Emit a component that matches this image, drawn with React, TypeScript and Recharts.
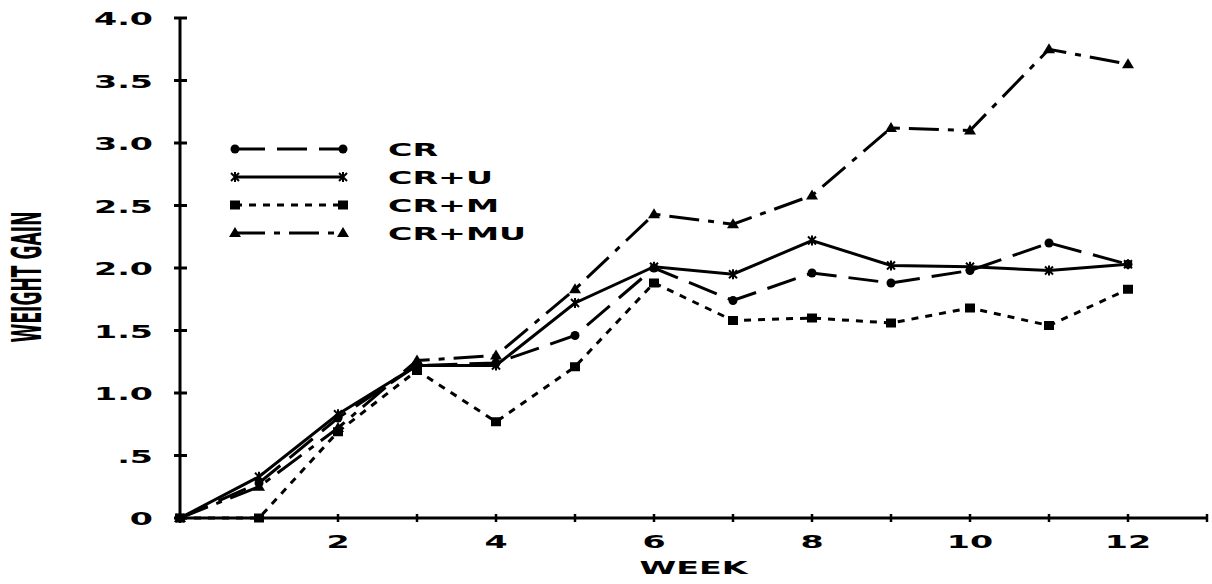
import { Label, Legend, Line, LineChart, XAxis, YAxis } from "recharts";

const weeks = [0, 1, 2, 3, 4, 5, 6, 7, 8, 9, 10, 11, 12];
const cr = [0, 0.28, 0.8, 1.22, 1.24, 1.46, 2.0, 1.74, 1.96, 1.88, 1.98, 2.2, 2.03];
const crU = [0, 0.33, 0.83, 1.22, 1.22, 1.72, 2.01, 1.95, 2.22, 2.02, 2.01, 1.98, 2.03];
const crM = [0, 0, 0.69, 1.18, 0.77, 1.21, 1.88, 1.58, 1.6, 1.56, 1.68, 1.54, 1.83];
const crMU = [0, 0.25, 0.72, 1.26, 1.3, 1.83, 2.43, 2.35, 2.58, 3.12, 3.1, 3.75, 3.63];

const xTicks = [0, 1, 2, 3, 4, 5, 6, 7, 8, 9, 10, 11, 12, 13];
const xTickLabels = ["", "", "2", "", "4", "", "6", "", "8", "", "10", "", "12", ""];
const yTicks = [0, 0.5, 1, 1.5, 2, 2.5, 3, 3.5, 4];
const yTickLabels = ["0", ".5", "1.0", "1.5", "2.0", "2.5", "3.0", "3.5", "4.0"];

const seriesNames = ["CR", "CR+U", "CR+M", "CR+MU"];
const seriesKeys = ["cr", "crU", "crM", "crMU"];

const data = weeks.map((week, i) => ({
  week,
  cr: cr[i],
  crU: crU[i],
  crM: crM[i],
  crMU: crMU[i],
}));

const FONT = "'DejaVu Sans', sans-serif";
const dashes: Record<string, string | undefined> = {
  cr: "30 12",
  crU: undefined,
  crM: "7 7",
  crMU: "30 9 6 9",
};

function WideText({ x, y, anchor, children }: { x: number; y: number; anchor: string; children: string }) {
  return (
    <g transform={`translate(${x},${y}) scale(1.85,1)`}>
      <text x={0} y={0} textAnchor={anchor} fontFamily={FONT} fontWeight="bold" fontSize={18} fill="#000">
        {children}
      </text>
    </g>
  );
}

function marker(kind: string, cx: number, cy: number, key?: string) {
  if (kind === "cr") return <circle key={key} cx={cx} cy={cy} r={4.5} fill="#000" />;
  if (kind === "crU")
    return (
      <g key={key} stroke="#000" strokeWidth={2}>
        <line x1={cx - 4} y1={cy - 4} x2={cx + 4} y2={cy + 4} />
        <line x1={cx - 4} y1={cy + 4} x2={cx + 4} y2={cy - 4} />
        <line x1={cx} y1={cy - 5} x2={cx} y2={cy + 5} />
      </g>
    );
  if (kind === "crM") return <rect key={key} x={cx - 5} y={cy - 4.5} width={10} height={9} fill="#000" />;
  return <path key={key} d={`M${cx},${cy - 6} L${cx + 6},${cy + 4} L${cx - 6},${cy + 4} Z`} fill="#000" />;
}

function dotFor(kind: string) {
  return (p: any) => marker(kind, p.cx, p.cy, `${kind}-${p.index}`);
}

function YTick({ x, y, payload }: any) {
  const i = yTicks.indexOf(payload.value);
  return (
    <g>
      <line x1={x - 6} y1={y} x2={x + 7} y2={y} stroke="#000" strokeWidth={3} />
      <WideText x={x - 27} y={y + 7} anchor="end">
        {yTickLabels[i]}
      </WideText>
    </g>
  );
}

function XTick({ x, y, payload }: any) {
  const i = xTicks.indexOf(payload.value);
  return (
    <g>
      <line x1={x} y1={y - 4} x2={x} y2={y + 4} stroke="#000" strokeWidth={2.5} />
      {xTickLabels[i] ? (
        <WideText x={x} y={y + 30} anchor="middle">
          {xTickLabels[i]}
        </WideText>
      ) : null}
    </g>
  );
}

function LegendBox() {
  return (
    <svg width={340} height={110}>
      {seriesKeys.map((k, i) => {
        const y = 14 + i * 28;
        return (
          <g key={k}>
            <line x1={10} y1={y} x2={118} y2={y} stroke="#000" strokeWidth={3} strokeDasharray={dashes[k]} />
            {marker(k, 10, y)}
            {marker(k, 118, y)}
            <WideText x={163} y={y + 7} anchor="start">
              {seriesNames[i]}
            </WideText>
          </g>
        );
      })}
    </svg>
  );
}

export default function App() {
  return (
    <div style={{ position: "absolute", left: 0, top: 0, width: 1212, height: 584, background: "#fff" }}>
      <LineChart width={1212} height={584} data={data} margin={{ top: 18, right: 5, bottom: 0, left: 0 }}>
        <XAxis
          dataKey="week"
          type="number"
          domain={[0, 13]}
          ticks={xTicks}
          interval={0}
          height={66}
          tickSize={0}
          tickMargin={0}
          tick={<XTick />}
          axisLine={{ stroke: "#000", strokeWidth: 3 }}
          tickLine={false}
        >
          <Label
            content={({ viewBox }: any) => (
              <WideText x={viewBox.x + viewBox.width / 2} y={viewBox.y + 56} anchor="middle">
                WEEK
              </WideText>
            )}
          />
        </XAxis>
        <YAxis
          type="number"
          domain={[0, 4]}
          ticks={yTicks}
          interval={0}
          width={180}
          tickSize={0}
          tickMargin={0}
          tick={<YTick />}
          axisLine={{ stroke: "#000", strokeWidth: 3 }}
          tickLine={false}
        >
          <Label
            content={() => (
              <text
                transform="translate(41,277) rotate(-90)"
                x={0}
                y={0}
                textAnchor="middle"
                fontFamily={FONT}
                fontWeight="bold"
                fontSize={40}
                textLength={131}
                lengthAdjust="spacingAndGlyphs"
                fill="#000"
              >
                WEIGHT GAIN
              </text>
            )}
          />
        </YAxis>
        <Legend
          layout="vertical"
          align="center"
          verticalAlign="middle"
          content={() => <LegendBox />}
          wrapperStyle={{ left: 225, top: 135, width: 340, height: 110 }}
        />
        {seriesKeys.map((k, i) => (
          <Line
            key={k}
            type="linear"
            dataKey={k}
            name={seriesNames[i]}
            stroke="#000"
            strokeWidth={3}
            strokeDasharray={dashes[k]}
            dot={dotFor(k)}
            activeDot={false}
            isAnimationActive={false}
          />
        ))}
      </LineChart>
    </div>
  );
}
